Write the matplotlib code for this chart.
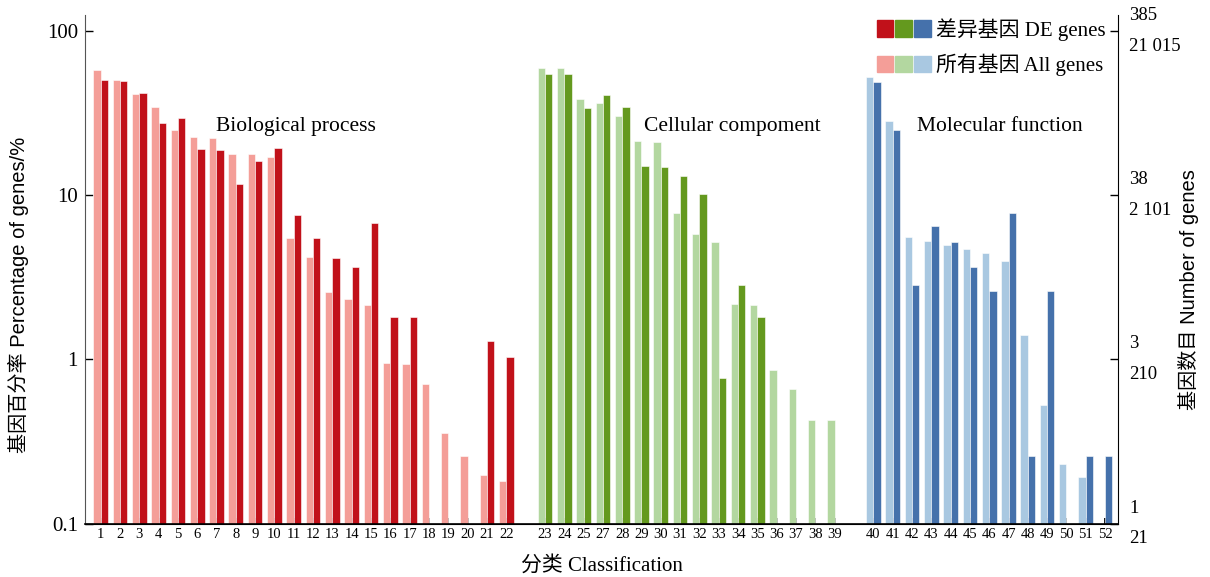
import matplotlib
matplotlib.use("Agg")
import matplotlib.pyplot as plt
from matplotlib.patches import Rectangle
from matplotlib.legend_handler import HandlerTuple
import numpy as np

plt.rcParams['font.family'] = ['Liberation Serif', 'Noto Sans CJK SC']
SANS = ['Liberation Sans', 'Noto Sans CJK SC']

# categories (26 is skipped in the original numbering)
cats_bp = [str(i) for i in range(1, 23)]
cats_cc = ['23', '24', '25', '27', '28', '29', '30', '31', '32', '33', '34',
           '35', '36', '37', '38', '39']
cats_mf = [str(i) for i in range(40, 53)]

# percentage of all genes / DE genes (nan = no bar)
nan = np.nan
all_bp = [57.6, 50.1, 41.4, 34.5, 24.9, 22.6, 22.3, 17.8, 17.7, 17.0, 5.50,
          4.19, 2.57, 2.33, 2.14, 0.95, 0.935, 0.707, 0.357, 0.259, 0.198, 0.183]
de_bp = [50.1, 49.4, 41.8, 27.5, 29.3, 19.0, 18.8, 11.7, 16.1, 19.2, 7.52,
         5.45, 4.14, 3.63, 6.73, 1.81, 1.81, nan, nan, nan, 1.29, 1.03]

all_cc = [59.0, 59.0, 38.4, 36.3, 30.3, 21.2, 20.9, 7.74, 5.82, 5.18, 2.16,
          2.14, 0.857, 0.66, 0.429, 0.429]
de_cc = [54.5, 54.5, 33.7, 40.6, 34.5, 15.0, 14.8, 13.0, 10.1, 0.773, 2.83,
         1.81, nan, nan, nan, nan]

all_mf = [52.5, 28.2, 5.53, 5.25, 4.94, 4.69, 4.42, 3.98, 1.41, 0.525, 0.231,
          0.193, nan]
de_mf = [48.9, 24.8, 2.83, 6.48, 5.15, 3.63, 2.59, 7.77, 0.257, 2.59, nan,
         0.257, 0.257]

group_names = ['Biological process', 'Cellular compoment', 'Molecular function']
right_labels = ['1\n21', '3\n210', '38\n2 101', '385\n21 015']

colors_de = ['#C1111A', '#64991E', '#4571AB']
colors_all = ['#F49E98', '#B3D7A0', '#A9C8E1']


def main():
	fig = plt.figure(figsize=(12.10, 5.77), dpi=100)
	ax = fig.add_axes([0.0702, 0.0925, 0.8538, 0.8815])

	groups = [(cats_bp, all_bp, de_bp), (cats_cc, all_cc, de_cc), (cats_mf, all_mf, de_mf)]
	w = 0.38
	start = 0
	xt, xl = [], []
	for g, (cats, a, d) in enumerate(groups):
		x = start + np.arange(len(cats))
		a = np.array(a, dtype=float)
		d = np.array(d, dtype=float)
		ma = ~np.isnan(a)
		md = ~np.isnan(d)
		ax.bar(x[ma] - w/2, a[ma], width=w, color=colors_all[g],
			   edgecolor='white', linewidth=0.4, zorder=2)
		ax.bar(x[md] + w/2, d[md], width=w, color=colors_de[g],
			   edgecolor='white', linewidth=0.4, zorder=2)
		xt += list(x)
		xl += cats
		start = x[-1] + 2

	ax.set_yscale('log')
	ax.set_ylim(0.1, 124.6)
	ax.set_xlim(-0.81, start - 2 + 0.67)
	ax.set_yticks([0.1, 1, 10, 100])
	ax.set_yticklabels(['0.1', '1', '10', '100'], fontsize=15)
	ax.minorticks_off()
	ax.set_xticks(xt)
	ax.set_xticklabels(xl, fontsize=10.5)
	ax.tick_params(axis='x', direction='in', length=4, width=1.3, pad=3)
	ax.tick_params(axis='y', direction='in', length=6, width=1.0, pad=5)
	ax.spines['top'].set_visible(False)
	ax.spines['right'].set_visible(False)
	ax.spines['left'].set_color('#555555')
	ax.spines['bottom'].set_linewidth(1.2)

	# right axis with gene counts
	ax2 = ax.twinx()
	ax2.set_yscale('log')
	ax2.set_ylim(ax.get_ylim())
	ax2.set_yticks([0.1, 1, 10, 100])
	ax2.set_yticklabels(right_labels, fontsize=13.5, linespacing=2.05, va='center')
	ax2.minorticks_off()
	ax2.tick_params(axis='y', direction='in', length=6, width=1.0, pad=8)
	ax2.spines['top'].set_visible(False)
	ax2.spines['left'].set_visible(False)
	ax2.set_ylabel('基因数目 Number of genes', fontsize=14.5, family=SANS)
	ax2.yaxis.set_label_coords(1.058, 0.46)

	# group labels
	label_x = [5.96, 28.15, 42.25]
	for name, lx in zip(group_names, label_x):
		ax.text(lx, 26.3, name, fontsize=15.5, ha='left', va='center')

	ax.set_ylabel('基因百分率 Percentage of genes/%', fontsize=14.5, family=SANS)
	ax.yaxis.set_label_coords(-0.054, 0.45)
	ax.set_xlabel('分类 Classification', fontsize=15, labelpad=11)

	h_de = tuple(Rectangle((0, 0), 1, 1, color=c) for c in colors_de)
	h_all = tuple(Rectangle((0, 0), 1, 1, color=c) for c in colors_all)
	ax.legend([h_de, h_all], ['差异基因 DE genes', '所有基因 All genes'],
			  handler_map={tuple: HandlerTuple(ndivide=None, pad=0.1)},
			  loc='upper right', bbox_to_anchor=(0.988, 0.994), frameon=False,
			  fontsize=15, handlelength=2.6, handleheight=0.85,
			  handletextpad=0.25, labelspacing=0.6, borderaxespad=0, borderpad=0)

	fig.savefig('out.png', dpi=100)


if __name__ == '__main__':
	main()
